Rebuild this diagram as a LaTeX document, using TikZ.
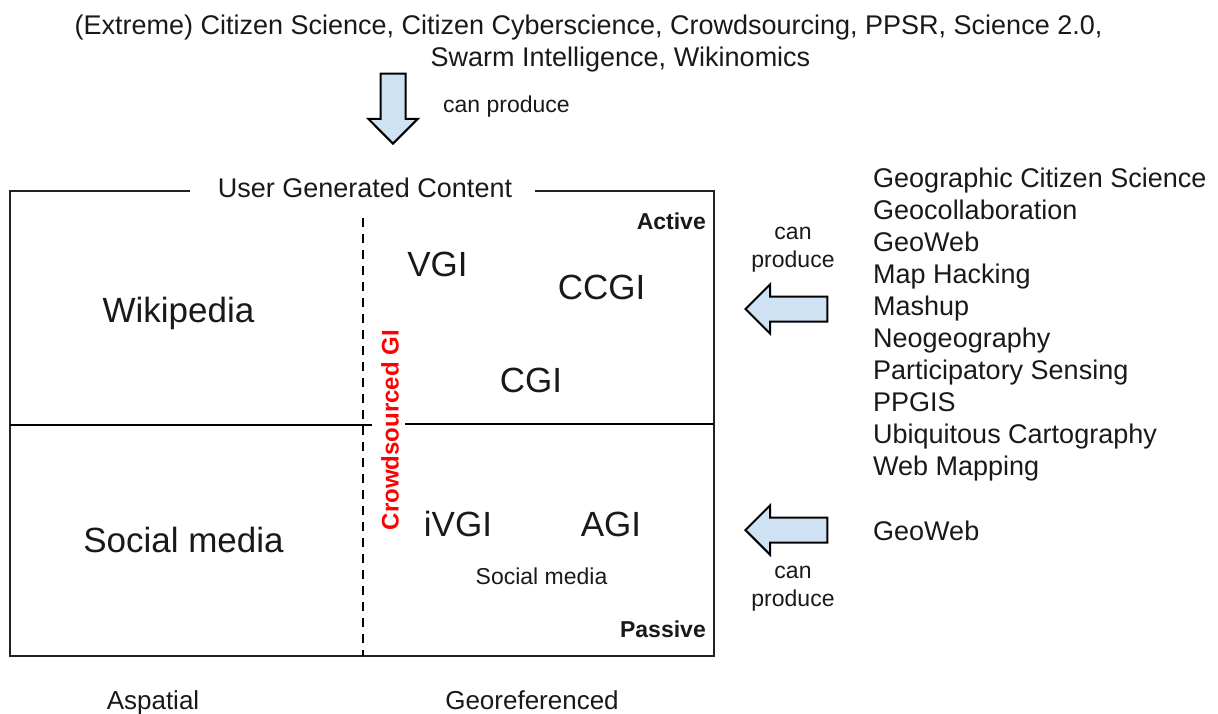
\documentclass[tikz,border=0pt]{standalone}
\usepackage{fontspec}
\setmainfont{Liberation Sans}
\usetikzlibrary{shapes.arrows}
\definecolor{arrowfill}{HTML}{CFE2F3}
\definecolor{linegray}{HTML}{222222}
\tikzset{
  txt/.style={inner sep=0pt, anchor=base, text=black!90},
  big/.style={txt, font=\fontsize{35}{42}\selectfont},
  mid/.style={txt, font=\fontsize{27}{32}\selectfont},
  small/.style={txt, font=\fontsize{23}{28}\selectfont},
  boldsmall/.style={txt, font=\fontsize{23}{28}\selectfont\bfseries},
  fatarrow/.style={single arrow, draw=black, fill=arrowfill, line width=2pt,
     single arrow head extend=12.25pt, single arrow tip angle=90},
  horizarrow/.style={fatarrow, inner xsep=0pt, inner ysep=11.5pt},
  vertarrow/.style={fatarrow, inner xsep=11.5pt, inner ysep=0pt},
  frame/.style={draw=linegray, line width=1.5pt},
  axis/.style={draw=black, line width=2pt},
}
\begin{document}
\begin{tikzpicture}[x=1pt,y=-1pt]
\useasboundingbox (0,0) rectangle (1218,713);

% top text
\node[mid] (top1) at (588.5,34) {(Extreme) Citizen Science, Citizen Cyberscience, Crowdsourcing, PPSR, Science 2.0,};
\node[mid] (top2) at (620.5,66) {Swarm Intelligence, Wikinomics};

% top arrow
\node[vertarrow, shape border rotate=270, minimum height=70pt, anchor=tip] (downarrow) at (393,145) {};
\node[small, anchor=base west] (canprod1) at (443,112) {can produce};

% frame
\coordinate (tl) at (10,191);
\coordinate (tr) at (714,191);
\coordinate (bl) at (10,656);
\coordinate (br) at (714,656);
\node[mid] (title) at (365,197) {User Generated Content};
\coordinate (gapL) at (190,191);
\coordinate (gapR) at (535,191);
\draw[frame] (gapL) -- (tl) -- (bl) -- (br) -- (tr) -- (gapR);

% dashed vertical
\coordinate (vtop) at (363,218);
\coordinate (vbot) at (363,656);
\draw[axis, dash pattern=on 9pt off 7pt] (vtop) -- (vbot);

% horizontal axis
\coordinate (hl1) at (10,425);
\coordinate (hl2) at (372,425);
\coordinate (hr1) at (405,424);
\coordinate (hr2) at (714,424);
\draw[axis] (hl1) -- (hl2);
\draw[axis] (hr1) -- (hr2);

% red label
\node[inner sep=0pt, text=red, font=\fontsize{24}{29}\selectfont\bfseries, rotate=90] (crowd) at (390,430) {Crowdsourced GI};

% corner labels
\node[boldsmall, anchor=base east] (active) at (706,229) {Active};
\node[boldsmall, anchor=base east] (passive) at (706,637) {Passive};

% big labels
\node[big] (vgi) at (437.5,276) {VGI};
\node[big] (ccgi) at (601.5,299.5) {CCGI};
\node[big] (wiki) at (178.5,322) {Wikipedia};
\node[big] (cgi) at (531,392.5) {CGI};
\node[big] (social) at (183.5,552) {Social media};
\node[big] (ivgi) at (458,536.5) {iVGI};
\node[big] (agi) at (611,536.5) {AGI};
\node[small] (socialsmall) at (541.5,584) {Social media};

% bottom labels
\node[txt, font=\fontsize{26}{31}\selectfont] (aspatial) at (153,709) {Aspatial};
\node[txt, font=\fontsize{26}{31}\selectfont] (georef) at (532,709) {Georeferenced};

% right arrows
\node[horizarrow, shape border rotate=180, minimum height=82pt, anchor=tip] (leftarrow1) at (744,309) {};
\node[horizarrow, shape border rotate=180, minimum height=82pt, anchor=tip] (leftarrow2) at (744,530) {};
\node[small, align=center, anchor=base] (canprod2) at (793,267) {can\\produce};
\node[small, align=center, anchor=base] (canprod3) at (793,606) {can\\produce};

% right list
\node[mid, anchor=base west] (l1) at (873,187) {Geographic Citizen Science};
\node[mid, anchor=base west] (l2) at (873,219) {Geocollaboration};
\node[mid, anchor=base west] (l3) at (873,251) {GeoWeb};
\node[mid, anchor=base west] (l4) at (873,283) {Map Hacking};
\node[mid, anchor=base west] (l5) at (873,315) {Mashup};
\node[mid, anchor=base west] (l6) at (873,347) {Neogeography};
\node[mid, anchor=base west] (l7) at (873,379) {Participatory Sensing};
\node[mid, anchor=base west] (l8) at (873,411) {PPGIS};
\node[mid, anchor=base west] (l9) at (873,443) {Ubiquitous Cartography};
\node[mid, anchor=base west] (l10) at (873,475) {Web Mapping};
\node[mid, anchor=base west] (geoweb2) at (873,540) {GeoWeb};
\end{tikzpicture}
\end{document}
